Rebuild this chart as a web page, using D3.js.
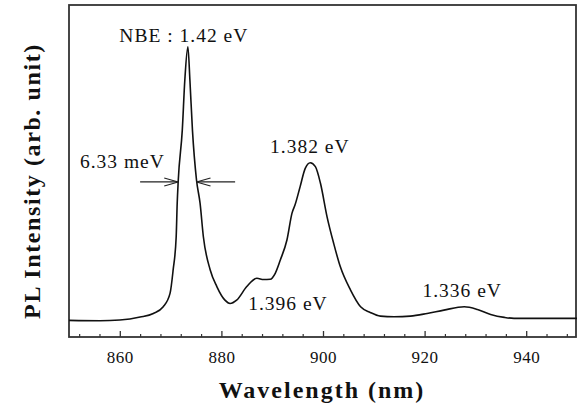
<!DOCTYPE html>
<html><head><meta charset="utf-8">
<script src="https://cdn.jsdelivr.net/npm/d3@7"></script>
<style>
html,body{margin:0;padding:0;background:#fff;}
svg{display:block;}
text{font-family:"Liberation Serif","Times New Roman",serif;fill:#111;}
</style></head>
<body><svg id="chart" width="578" height="407"></svg>
<script>
// Wavelength (nm) and PL intensity (arb. units, 0-100 scale)
const wavelength = [850,856.1,860,864,866.6,868.55,869.9,870.5,871.1,871.3,871.5,872.3,872.8,873.4,873.8,874.3,875.1,875.8,876.45,877.8,879.1,880.7,881.7,883,885,887,888.3,889.6,890.6,891.6,892.9,893.9,894.5,895.5,896.5,897.5,898.5,899.5,900.8,902.1,903.4,905.4,907.4,909.3,911.3,914,917.2,920.5,923.8,927.8,930.4,933,935.7,937.6,950];
const intensity  = [5,4.9,5.1,6,7.1,9.1,13.2,20.2,30.2,40.3,47,62.3,77.4,87.4,77.4,62.3,47.3,40.3,30.2,20.2,15.2,11.1,10.1,11.1,15.2,17.7,17.3,17.4,19.2,23.2,29.2,37.3,39.8,45.3,50.8,52.5,51.3,46.3,36.2,28.2,21.2,14.2,9.1,7.4,6.3,6.1,6.3,7.1,8.1,9.1,8.3,6.8,5.9,5.6,5.6];
const xMajorTicks = [860,880,900,920,940];
const xMinorTicks = [852,856,860,864,868,872,876,880,884,888,892,896,900,904,908,912,916,920,924,928,932,936,940,944,948];
const peakLabels = ["NBE : 1.42 eV","1.382 eV","1.396 eV","1.336 eV"];
const peakLabelX = [872.6,897.4,893.1,927.4];   // label centre wavelength
const peakLabelY = [88.9,55.4,8.1,12];        // label baseline intensity
const fwhmLabel = "6.33 meV";
const fwhmLabelX = 860.5, fwhmLabelY = 50.9;
const fwhmLeft = [864,871.5];   // arrow from, to
const fwhmRight = [882.7,875.1];
const fwhmLevel = 46.7;
const xTitle = "Wavelength (nm)";
const yTitle = "PL Intensity (arb. unit)";

const svg = d3.select("#chart");
const m = {left:69, right:1, top:5, bottom:70};
const W = 578, H = 407;
const x = d3.scaleLinear().domain([850,950]).range([m.left, W-m.right]);
const y = d3.scaleLinear().domain([0,100]).range([H-m.bottom, m.top]);

// bottom axis ticks (inward)
const gx = svg.append("g").attr("transform",`translate(0,${H-m.bottom})`)
  .call(d3.axisBottom(x).tickValues(xMajorTicks).tickFormat(d3.format("d")).tickSizeInner(-6).tickSizeOuter(0).tickPadding(14));
gx.select(".domain").remove();
gx.selectAll("line").attr("stroke","#333").attr("stroke-width",1.3);
gx.selectAll("text").attr("font-size",17).attr("fill","#222").style("font-family",'"Liberation Serif","Times New Roman",serif').attr("letter-spacing",0.5);
const gm = svg.append("g").attr("transform",`translate(0,${H-m.bottom})`)
  .call(d3.axisBottom(x).tickValues(xMinorTicks.filter(v=>!xMajorTicks.includes(v))).tickFormat("").tickSizeInner(-3).tickSizeOuter(0));
gm.select(".domain").remove();
gm.selectAll("line").attr("stroke","#333").attr("stroke-width",1.2);

// frame
svg.append("rect").attr("x",x(850)).attr("y",y(100)).attr("width",x(950)-x(850)-1).attr("height",y(0)-y(100))
  .attr("fill","none").attr("stroke","#333").attr("stroke-width",1.8);

// curve
const line = d3.line().x((d,i)=>x(wavelength[i])).y(d=>y(d)).curve(d3.curveMonotoneX);
svg.append("path").datum(intensity).attr("d",line).attr("fill","none").attr("stroke","#111").attr("stroke-width",1.6).attr("stroke-linejoin","round");

// peak labels
svg.selectAll(".pl").data(peakLabels).join("text").attr("class","pl")
  .attr("x",(d,i)=>x(peakLabelX[i])).attr("y",(d,i)=>y(peakLabelY[i]))
  .attr("text-anchor","middle").attr("font-size",19.5).attr("letter-spacing",1).text(d=>d);

// FWHM label & arrows
svg.append("text").attr("x",x(fwhmLabelX)).attr("y",y(fwhmLabelY)).attr("text-anchor","middle").attr("font-size",19.5).attr("letter-spacing",1).text(fwhmLabel);
function arrow(from,to){
  const x0=x(from), x1=x(to), yy=y(fwhmLevel), dir=Math.sign(x1-x0);
  const g=svg.append("g").attr("stroke","#222").attr("stroke-width",1.2).attr("fill","none");
  g.append("line").attr("x1",x0).attr("y1",yy).attr("x2",x1).attr("y2",yy);
  g.append("line").attr("x1",x1-dir*14).attr("y1",yy-4).attr("x2",x1).attr("y2",yy);
  g.append("line").attr("x1",x1-dir*14).attr("y1",yy+4).attr("x2",x1).attr("y2",yy);
}
arrow(fwhmLeft[0],fwhmLeft[1]);
arrow(fwhmRight[0],fwhmRight[1]);

// axis titles
svg.append("text").attr("x",322).attr("y",398).attr("text-anchor","middle").attr("font-size",24).attr("font-weight","bold").attr("letter-spacing",2).text(xTitle);
svg.append("text").attr("transform","translate(40,181) rotate(-90)").attr("text-anchor","middle").attr("font-size",24).attr("font-weight","bold").attr("letter-spacing",1.6).text(yTitle);
</script></body></html>
